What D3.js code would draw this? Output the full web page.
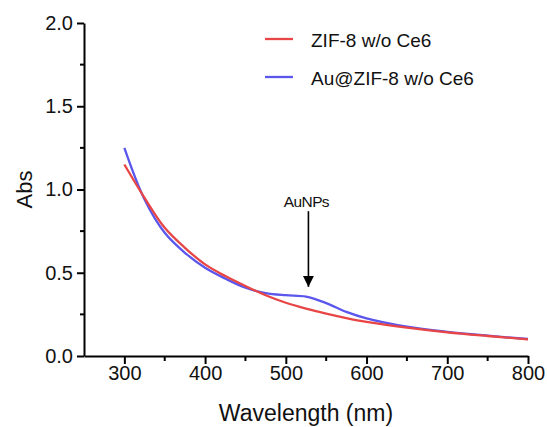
<!DOCTYPE html>
<html>
<head>
<meta charset="utf-8">
<script src="https://cdn.jsdelivr.net/npm/d3@7"></script>
<style>
  body { margin: 0; background: #fff; }
  text { font-family: Arial, "Liberation Sans", sans-serif; fill: #111; }
</style>
</head>
<body>
<div id="chart"></div>
<script>
// wavelengths (nm) and absorbance
var wavelength = [300, 325, 350, 375, 400, 425, 450, 475, 500, 525, 550, 575, 600, 650, 700, 750, 800];
var zif8 =       [1.15, 0.95, 0.77, 0.65, 0.55, 0.48, 0.42, 0.365, 0.32, 0.285, 0.255, 0.228, 0.205, 0.17, 0.142, 0.12, 0.10];
var auZif8 =     [1.25, 0.94, 0.74, 0.62, 0.53, 0.465, 0.41, 0.378, 0.365, 0.357, 0.318, 0.265, 0.226, 0.176, 0.145, 0.122, 0.102];

var seriesNames = ["ZIF-8 w/o Ce6", "Au@ZIF-8 w/o Ce6"];
var xTicks = [300, 400, 500, 600, 700, 800];
var xMinor = [350, 450, 550, 650, 750];
var yTicks = [0, 0.5, 1.0, 1.5, 2.0];
var yMinor = [0.25, 0.75, 1.25, 1.75];
var arrowNote = {label: "AuNPs", x: 528, top: 0.87, tip: 0.415};

var W = 547, H = 427;
var margin = {top: 23, right: 19, bottom: 71, left: 84},
    width = W - margin.left - margin.right,
    height = H - margin.top - margin.bottom;

var x = d3.scaleLinear().domain([250, 800]).range([0, width]);
var y = d3.scaleLinear().domain([0, 2]).range([height, 0]);

var svg = d3.select("#chart").append("svg")
    .attr("width", W)
    .attr("height", H)
  .append("g")
    .attr("transform", "translate(" + margin.left + "," + margin.top + ")");

var colors = ["#e84646", "#5b56ec"];
var seriesData = [zif8, auZif8].map(function (vals) {
  return vals.map(function (v, i) { return {x: wavelength[i], y: v}; });
});

var line = d3.line()
    .x(function (d) { return x(d.x); })
    .y(function (d) { return y(d.y); })
    .curve(d3.curveCatmullRom.alpha(0.5));

// draw red last so it sits on top, like the picture
[1, 0].forEach(function (k) {
  svg.append("path")
    .datum(seriesData[k])
    .attr("fill", "none")
    .attr("stroke", colors[k])
    .attr("stroke-width", 2.3)
    .attr("d", line);
});

// axes
var xAxis = svg.append("g")
    .attr("transform", "translate(0," + height + ")")
    .call(d3.axisBottom(x).tickValues(xTicks).tickSize(8).tickPadding(2).tickSizeOuter(0));
xAxis.append("g").selectAll("line").data(xMinor).enter().append("line")
    .attr("x1", function (d) { return x(d); }).attr("x2", function (d) { return x(d); })
    .attr("y1", 0).attr("y2", 5)
    .attr("stroke", "#000").attr("stroke-width", 2);

var yAxis = svg.append("g")
    .call(d3.axisLeft(y).tickValues(yTicks).tickFormat(d3.format(".1f")).tickSize(7).tickPadding(4).tickSizeOuter(0));
yAxis.append("g").selectAll("line").data(yMinor).enter().append("line")
    .attr("y1", function (d) { return y(d); }).attr("y2", function (d) { return y(d); })
    .attr("x1", 0).attr("x2", -4)
    .attr("stroke", "#000").attr("stroke-width", 2);

[xAxis, yAxis].forEach(function (a) {
  a.select(".domain").attr("stroke", "#000").attr("stroke-width", 2);
  a.selectAll(".tick line").attr("stroke", "#000").attr("stroke-width", 2);
  a.selectAll(".tick text").style("font-size", "20px").attr("fill", "#111")
    .style("font-family", "Arial, 'Liberation Sans', sans-serif");
});

// axis titles
svg.append("text")
    .attr("x", x(525))
    .attr("y", height + 65)
    .attr("text-anchor", "middle")
    .style("font-size", "23px")
    .text("Wavelength (nm)");

svg.append("text")
    .attr("transform", "translate(" + (32 - margin.left) + "," + y(1.0) + ") rotate(-90)")
    .attr("text-anchor", "middle")
    .style("font-size", "22px")
    .text("Abs");

// legend
var legend = svg.append("g");
seriesNames.forEach(function (name, i) {
  var ly = 16 + i * 38;
  legend.append("line")
    .attr("x1", 181).attr("x2", 209)
    .attr("y1", ly).attr("y2", ly)
    .attr("stroke", colors[i]).attr("stroke-width", 2.3);
  legend.append("text")
    .attr("x", 227).attr("y", ly + 7.5)
    .style("font-size", "19px")
    .text(name);
});

// AuNPs arrow
svg.append("defs").append("marker")
    .attr("id", "head")
    .attr("viewBox", "0 0 10 10")
    .attr("refX", 10).attr("refY", 5)
    .attr("markerWidth", 11).attr("markerHeight", 11)
    .attr("markerUnits", "userSpaceOnUse")
    .attr("orient", "auto")
  .append("path")
    .attr("d", "M0,0L10,5L0,10Z")
    .attr("fill", "#000");

svg.append("line")
    .attr("x1", x(arrowNote.x)).attr("x2", x(arrowNote.x))
    .attr("y1", y(arrowNote.top)).attr("y2", y(arrowNote.tip))
    .attr("stroke", "#000").attr("stroke-width", 1.6)
    .attr("marker-end", "url(#head)");

svg.append("text")
    .attr("x", x(arrowNote.x) - 2)
    .attr("y", y(arrowNote.top) - 4)
    .attr("text-anchor", "middle")
    .style("font-size", "15.5px")
    .style("letter-spacing", "-0.6px")
    .text(arrowNote.label);
</script>
</body>
</html>
